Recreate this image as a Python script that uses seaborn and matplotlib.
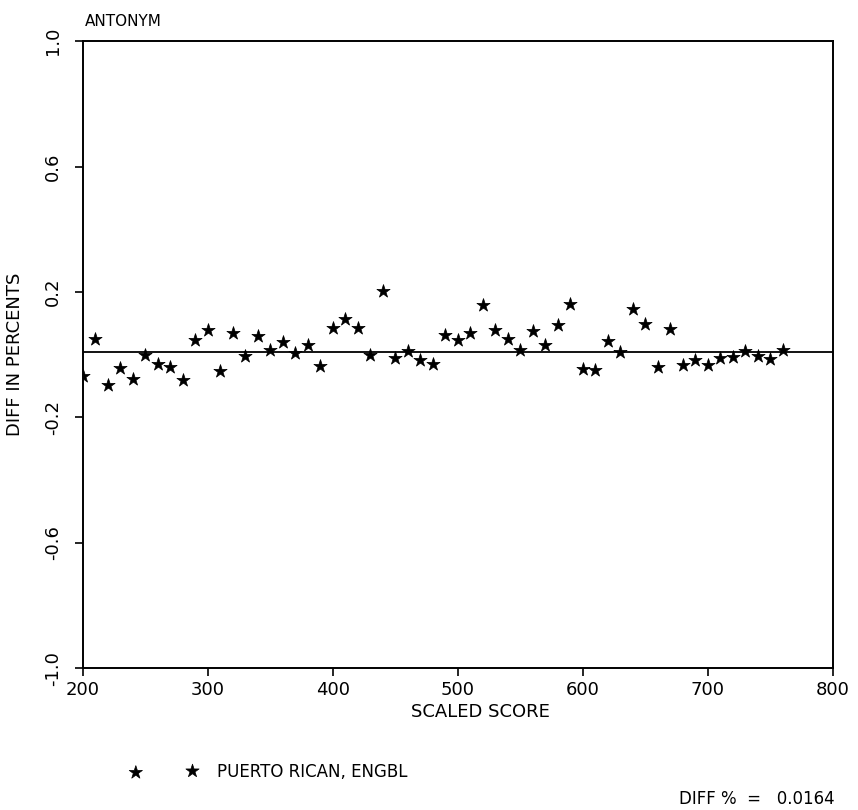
import numpy as np
import pandas as pd
import seaborn as sns
import matplotlib.pyplot as plt

# scaled scores and the difference in percents
scores = [200, 210, 220, 230, 240, 250, 260, 270, 280, 290,
          300, 310, 320, 330, 340, 350, 360, 370, 380, 390,
          400, 410, 420, 430, 440, 450, 460, 470, 480, 490,
          500, 510, 520, 530, 540, 550, 560, 570, 580, 590,
          600, 610, 620, 630, 640, 650, 660, 670, 680, 690,
          700, 710, 720, 730, 740, 750, 760]
diffs = [-0.067, 0.050, -0.096, -0.043, -0.078, -0.002, -0.030, -0.040, -0.082, 0.048,
         0.080, -0.053, 0.071, -0.005, 0.061, 0.014, 0.042, 0.005, 0.032, -0.036,
         0.087, 0.115, 0.087, 0.000, 0.202, -0.009, 0.011, -0.016, -0.030, 0.064,
         0.048, 0.071, 0.158, 0.080, 0.050, 0.014, 0.077, 0.032, 0.096, 0.162,
         -0.046, -0.048, 0.045, 0.008, 0.147, 0.099, -0.040, 0.083, -0.034, -0.016,
         -0.032, -0.009, -0.008, 0.011, -0.003, -0.013, 0.014]
ref_level = 0.01
group_name = 'PUERTO RICAN, ENGBL'
diff_pct = '0.0164'

df = pd.DataFrame({'score': scores, 'diff': diffs})

sns.set_style('white')
plt.rcParams['font.family'] = ['DejaVu Sans']
plt.rcParams['text.color'] = 'black'
plt.rcParams['axes.labelcolor'] = 'black'

fig = plt.figure(figsize=(8.58, 8.10), dpi=100)
ax = fig.add_axes([0.0967, 0.175, 0.874, 0.774])

sns.scatterplot(data=df, x='score', y='diff', marker='*', s=100, color='black',
                edgecolor='black', linewidth=0.5, ax=ax, label=group_name, legend=False)
ax.axhline(ref_level, color='black', lw=1.3)

ax.set_xlim(200, 800)
ax.set_ylim(-1.0, 1.0)
ax.set_xticks([200, 300, 400, 500, 600, 700, 800])
ax.set_yticks([-1.0, -0.6, -0.2, 0.2, 0.6, 1.0])
ax.set_yticklabels(['-1.0', '-0.6', '-0.2', '0.2', '0.6', '1.0'], rotation=90, va='center')
ax.tick_params(axis='both', direction='out', length=6, width=1.2, color='black',
               labelsize=13, labelcolor='black', left=True, bottom=True)
ax.tick_params(axis='y', pad=9)
ax.tick_params(axis='x', pad=3)
for sp in ax.spines.values():
    sp.set_color('black')
    sp.set_linewidth(1.4)

ax.set_xlabel('SCALED SCORE', fontsize=13, color='black')
ax.set_ylabel('DIFF IN PERCENTS', fontsize=13, color='black')
ax.xaxis.set_label_coords(0.53, -0.055)
ax.yaxis.set_label_coords(-0.078, 0.5)
ax.text(0.003, 1.02, 'ANTONYM', transform=ax.transAxes, fontsize=11, ha='left',
        va='bottom', color='black')

handles, labels = ax.collections[0], group_name
fig.legend([handles], [labels], loc='center left', bbox_to_anchor=(0.135, 0.047),
           scatterpoints=2, frameon=False, handlelength=4.0, handletextpad=1.2,
           fontsize=12, labelcolor='black')
fig.text(0.973, 0.013, 'DIFF %  =   ' + diff_pct, ha='right', va='center', fontsize=12,
         color='black')

fig.savefig('out.png', dpi=100)
